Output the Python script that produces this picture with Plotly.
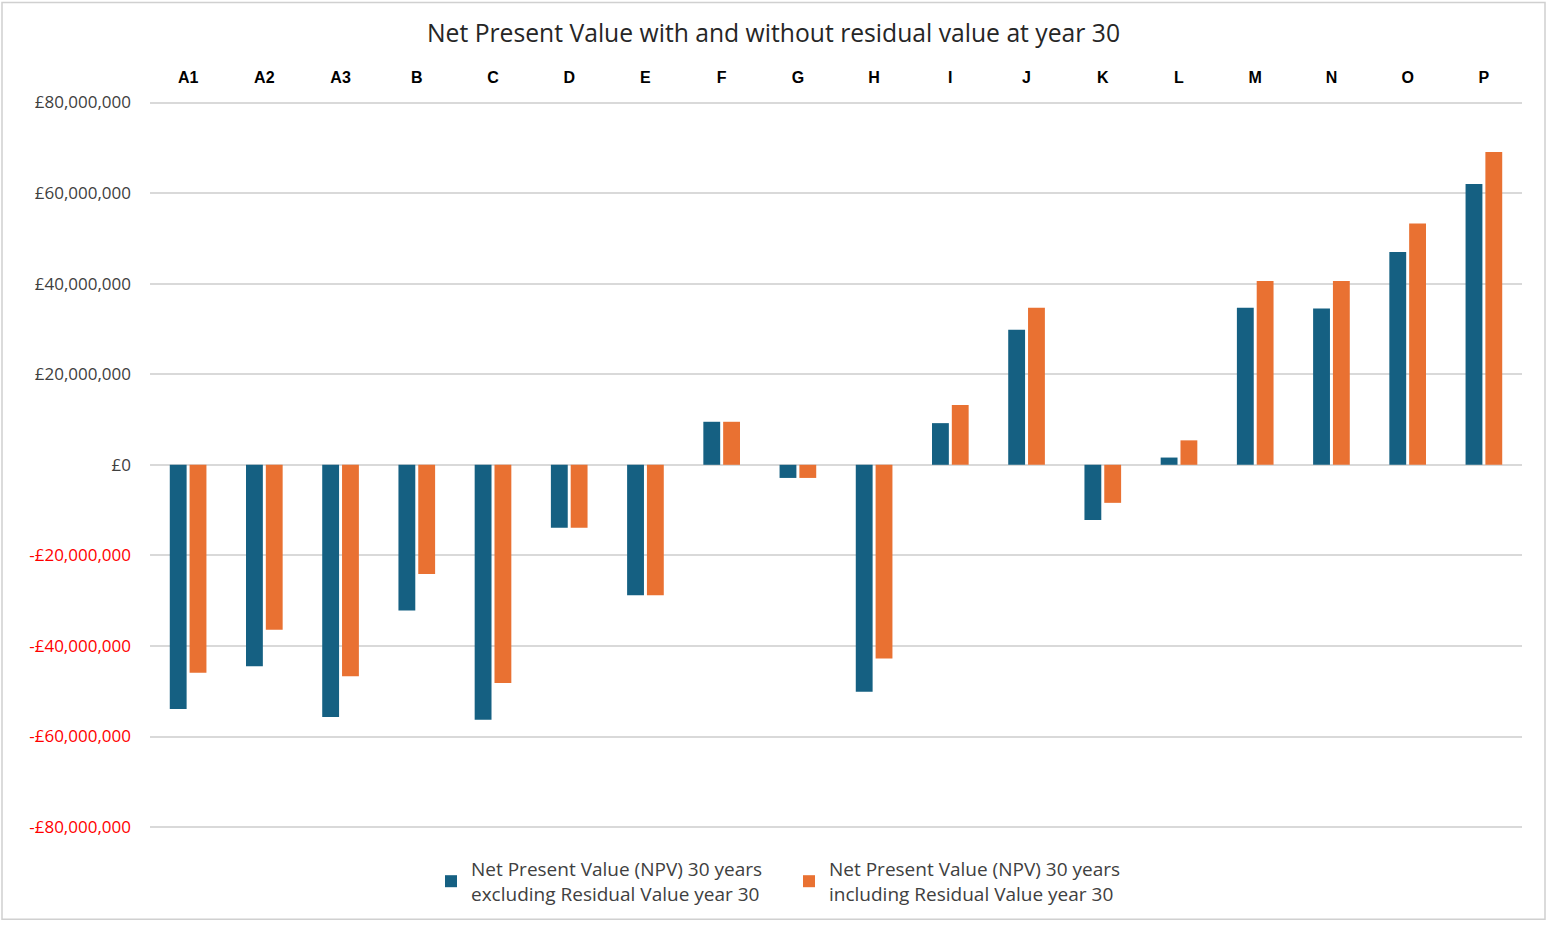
import plotly.graph_objects as go

categories = ["A1", "A2", "A3", "B", "C", "D", "E", "F", "G", "H", "I", "J", "K", "L", "M", "N", "O", "P"]
npv_excl = [-53.9, -44.5, -55.7, -32.2, -56.3, -13.9, -28.8, 9.5, -2.9, -50.1, 9.2, 29.8, -12.2, 1.6, 34.7, 34.5, 47.0, 62.0]
npv_incl = [-45.9, -36.4, -46.7, -24.1, -48.2, -13.9, -28.8, 9.5, -2.9, -42.8, 13.2, 34.7, -8.4, 5.4, 40.6, 40.6, 53.3, 69.1]
name_excl = "Net Present Value (NPV) 30 years<br>excluding Residual Value year 30"
name_incl = "Net Present Value (NPV) 30 years<br>including Residual Value year 30"
title_text = "Net Present Value with and without residual value at year 30"
y_tickvals = [80e6, 60e6, 40e6, 20e6, 0, -20e6, -40e6, -60e6, -80e6]
y_ticktext = ["£80,000,000", "£60,000,000", "£40,000,000", "£20,000,000", "£0",
              "-£20,000,000", "-£40,000,000", "-£60,000,000", "-£80,000,000"]

BLUE = "#156082"
ORANGE = "#E97132"
W, H = 1547, 926
L, R, T, B = 150, 25, 98, 91
FONT = "Open Sans, Noto Sans, sans-serif"

ticktext_colored = [
    (f'<span style="color:#FF0000">{t}</span>' if v < 0 else t)
    for v, t in zip(y_tickvals, y_ticktext)
]

fig = go.Figure()
fig.add_trace(go.Bar(x=categories, y=[v * 1e6 for v in npv_excl], name=name_excl,
                     marker=dict(color=BLUE, line=dict(width=0))))
fig.add_trace(go.Bar(x=categories, y=[v * 1e6 for v in npv_incl], name=name_incl,
                     marker=dict(color=ORANGE, line=dict(width=0))))

pw = W - L - R
ph = H - T - B
fig.add_shape(type="rect", xref="paper", yref="paper",
              x0=(2 - L) / pw, x1=(W - 2 - L) / pw,
              y0=(H - B - (H - 3)) / ph, y1=(H - B - 2) / ph,
              line=dict(color="#D0D0D0", width=1.5), fillcolor="rgba(0,0,0,0)", layer="below")

fig.update_layout(
    width=W, height=H,
    margin=dict(l=L, r=R, t=T, b=B),
    paper_bgcolor="white", plot_bgcolor="white",
    font=dict(family=FONT, color="#595959", size=16),
    title=dict(text=title_text, x=0.5, xref="container", xanchor="center",
               y=1 - 33 / H, yref="container", yanchor="middle",
               font=dict(size=24.7, color="#262626", family=FONT)),
    barmode="group", bargap=0.48, bargroupgap=0.15,
    showlegend=True,
    legend=dict(orientation="h", xref="container", x=431 / W, xanchor="left",
                yref="container", y=1 - 850 / H, yanchor="top",
                font=dict(size=19, color="#404040", family=FONT), itemclick=False,
                itemwidth=30, entrywidth=313, tracegroupgap=0),
    xaxis=dict(side="top", showgrid=False, showline=False, zeroline=False,
               ticks="", ticklabelstandoff=11,
               tickfont=dict(size=16, color="#000000",
                             family="Liberation Sans, Arial, sans-serif", weight="bold")),
    yaxis=dict(range=[-81e6, 81e6], tickvals=y_tickvals, ticktext=ticktext_colored,
               showgrid=True, gridcolor="#D9D9D9", gridwidth=1.5,
               zeroline=True, zerolinecolor="#D9D9D9", zerolinewidth=1.5,
               showline=False, ticks="", ticklabelstandoff=18,
               tickfont=dict(size=17, color="#404040", family=FONT)),
)

fig.write_html("out.html", config={"displayModeBar": False},
               post_script="document.body.style.margin='0';document.body.style.overflow='hidden';")
